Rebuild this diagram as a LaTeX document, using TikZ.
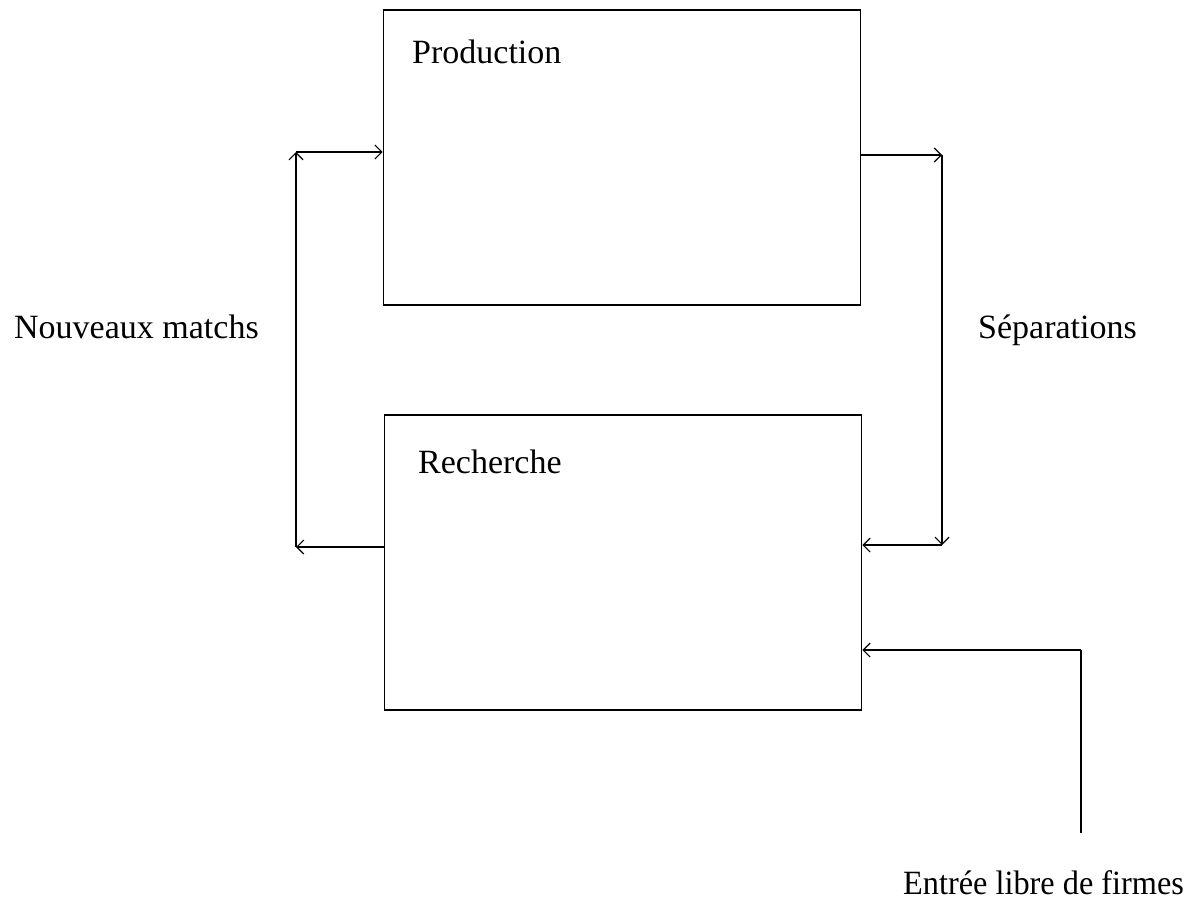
\documentclass[tikz,border=0pt]{standalone}
\usepackage{fontspec}
\setmainfont{Liberation Serif}
\usetikzlibrary{arrows.meta}
\begin{document}
\begin{tikzpicture}[x=1pt,y=-1pt,
  box/.style={draw,line width=1.6pt,minimum width=477pt,minimum height=295pt,inner sep=0pt},
  conn/.style={line width=1.6pt,-{Straight Barb[length=7pt,width=14pt,line width=1.2pt]}},
  lab/.style={font=\fontsize{34}{40}\selectfont,anchor=base west,inner sep=0pt}]
\useasboundingbox (0,0) rectangle (1197,905);
\node[box] (prod) at (622,157.5) {};
\node[box] (rech) at (623,562.5) {};
\node[lab] (tprod) at (412,63) {Production};
\node[lab] (trech) at (418,473) {Recherche};
\node[lab] (tnm) at (14,338) {Nouveaux matchs};
\node[lab] (tsep) at (978,338) {Séparations};
\node[lab] (tent) at (903,894) {\scalebox{0.95}[1]{Entrée libre de firmes}};
\coordinate (l1) at (296,547);
\coordinate (l2) at (296,152);
\coordinate (r1) at (942,155);
\coordinate (r2) at (942,545);
\coordinate (b1) at (1081,833);
\coordinate (b2) at (1081,650);
\draw[conn] (rech.west |- l1) -- (l1);
\draw[conn] (l1) -- (l2);
\draw[conn] (l2) -- (prod.west |- l2);
\draw[conn] (prod.east |- r1) -- (r1);
\draw[conn] (r1) -- (r2);
\draw[conn] (r2) -- (rech.east |- r2);
\draw[line width=1.6pt] (b1) -- (b2);
\draw[conn] (b2) -- (rech.east |- b2);
\end{tikzpicture}
\end{document}
